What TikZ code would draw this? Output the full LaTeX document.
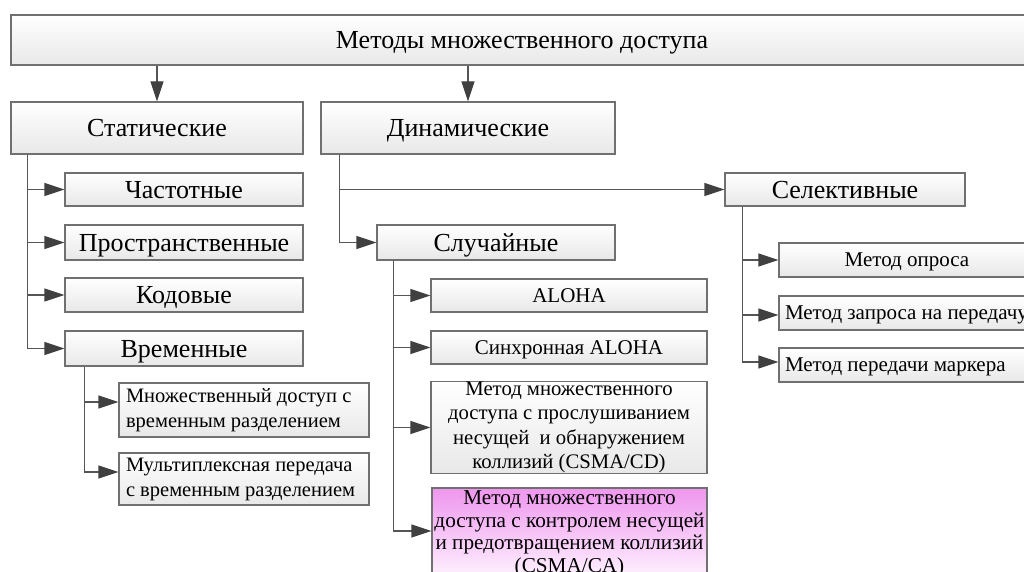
\documentclass[tikz,border=0pt]{standalone}
\usepackage{fontspec}
\setmainfont{Liberation Serif}
\usetikzlibrary{arrows.meta,calc}

\definecolor{boxline}{RGB}{112,112,112}
\definecolor{wire}{RGB}{85,85,85}
\definecolor{tipcol}{RGB}{64,64,64}
\definecolor{boxbot}{RGB}{232,232,232}
\definecolor{pinktop}{RGB}{238,150,238}
\definecolor{pinkbot}{RGB}{255,244,255}

\tikzset{
  box/.style={draw=boxline, line width=1.3pt, rectangle, top color=white,
    bottom color=boxbot, inner sep=0pt, align=center},
  bigtext/.style={text height=17.2pt, text depth=0pt, font=\fontsize{26}{31}\selectfont},
  smalltext/.style={text height=13.9pt, text depth=0pt, font=\fontsize{21}{25}\selectfont},
  leftbox/.style={box, align=flush left, inner xsep=7pt, text width=#1},
  pinkbox/.style={box, top color=pinktop, bottom color=pinkbot},
  arr/.style={draw=wire, line width=1.3pt,
    -{Triangle[length=20pt,width=13pt,fill=tipcol,color=tipcol]}}
}

\begin{document}
\begin{tikzpicture}[x=1pt,y=-1pt]
\clip (0,0) rectangle (1024,572);
\fill[white] (0,0) rectangle (1024,572);

% root
\node[box, bigtext, minimum width=1022pt, minimum height=50pt] (root) at (522,40) {Методы множественного доступа};

% first level
\node[box, bigtext, minimum width=292pt, minimum height=52pt] (stat) at (157,128) {Статические};
\node[box, bigtext, minimum width=294pt, minimum height=52pt] (dyn) at (468,128) {Динамические};

% static branch
\node[box, bigtext, minimum width=238pt, minimum height=33pt] (freq) at (184,189.5) {Частотные};
\node[box, bigtext, minimum width=238pt, minimum height=35pt] (space) at (184,242.5) {Пространственные};
\node[box, bigtext, minimum width=238pt, minimum height=34pt] (code) at (184,295) {Кодовые};
\node[box, bigtext, minimum width=238pt, minimum height=35pt] (time) at (184,348.5) {Временные};

\node[leftbox=236pt, font=\fontsize{20.5}{25}\selectfont, minimum height=54pt] (tdma) at (244,410)
  {Множественный доступ с\\временным разделением};
\node[leftbox=236pt, font=\fontsize{20.5}{25}\selectfont, minimum height=52pt] (tdm) at (244,479)
  {Мультиплексная передача\\с временным разделением};

% dynamic branch
\node[box, bigtext, minimum width=240pt, minimum height=33pt] (sel) at (845,189.5) {Селективные};
\node[box, bigtext, minimum width=238pt, minimum height=35pt] (rand) at (496,242.5) {Случайные};

\node[box, smalltext, minimum width=276pt, minimum height=33pt] (aloha) at (569,295.5) {ALOHA};
\node[box, smalltext, minimum width=276pt, minimum height=33pt] (saloha) at (569,347.5) {Синхронная ALOHA};
\node[box, font=\fontsize{20.7}{24.5}\selectfont, minimum width=276pt, minimum height=89pt] (cd) at (569,427.5)
  {Метод множественного\\доступа с прослушиванием\\несущей \ и обнаружением\\коллизий (CSMA/CD)};
\node[pinkbox, font=\fontsize{21.2}{22.5}\selectfont, minimum width=275pt, minimum height=92pt] (ca) at (569.5,534)
  {Метод множественного\\доступа с контролем несущей\\и предотвращением коллизий\\(CSMA/CA)};

\node[box, smalltext, minimum width=256pt, minimum height=34pt] (poll) at (907,260) {Метод опроса};
\node[leftbox=244pt, inner xsep=6pt, smalltext, minimum height=34pt] (req) at (907,313) {\mbox{Метод запроса на передачу}};
\node[leftbox=244pt, inner xsep=6pt, smalltext, minimum height=34pt] (token) at (907,365) {Метод передачи маркера};

% trunk points under the parent boxes
\coordinate (st) at ($(stat.south west)+(17,0)$);
\coordinate (tt) at ($(time.south west)+(20,0)$);
\coordinate (dt) at ($(dyn.south west)+(19,0)$);
\coordinate (rt) at ($(rand.south west)+(17,0)$);
\coordinate (se) at ($(sel.south west)+(18,0)$);

% connectors
\draw[arr] (stat.north |- root.south) -- (stat.north);
\draw[arr] (dyn.north |- root.south) -- (dyn.north);

\draw[arr] (st) |- (freq.west);
\draw[arr] (st) |- (space.west);
\draw[arr] (st) |- (code.west);
\draw[arr] (st) |- (time.west);

\draw[arr] (tt) |- ($(tdma.west)+(0,-8)$);
\draw[arr] (tt) |- ($(tdm.west)+(0,-7)$);

\draw[arr] (dt |- sel.west) -- (sel.west);
\draw[arr] (dt) |- (rand.west);

\draw[arr] (rt) |- (aloha.west);
\draw[arr] (rt) |- (saloha.west);
\draw[arr] (rt) |- (cd.west);
\draw[arr] (rt) |- ($(ca.west)+(0,-3)$);

\draw[arr] (se) |- (poll.west);
\draw[arr] (se) |- ($(req.west)+(0,2)$);
\draw[arr] (se) |- ($(token.west)+(0,-3)$);
\end{tikzpicture}
\end{document}
